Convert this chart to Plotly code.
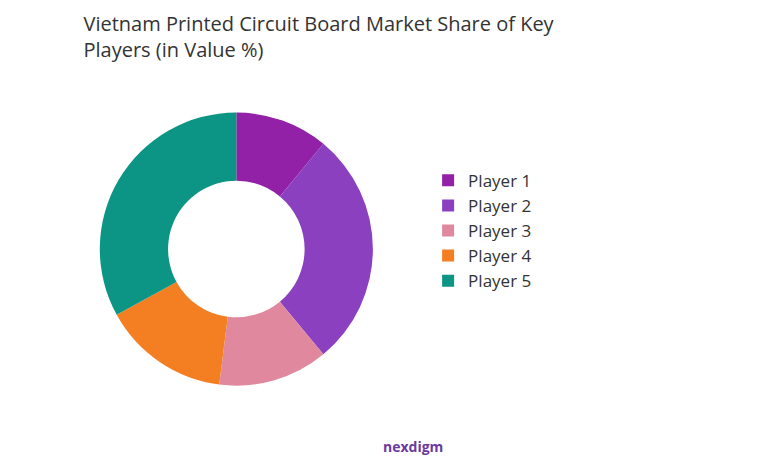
import plotly.graph_objects as go

labels = ["Player 1", "Player 2", "Player 3", "Player 4", "Player 5"]
values = [11, 28, 13, 15, 33]
colors = ["#9321A8", "#8B41BF", "#E0889E", "#F47E22", "#0C9585"]

fig = go.Figure(go.Pie(
    labels=labels, values=values, hole=0.5, sort=False, direction="clockwise",
    rotation=0, marker=dict(colors=colors, line=dict(color="white", width=0)),
    textinfo="none", hoverinfo="label+percent",
    domain=dict(x=[0.118, 0.469], y=[0.194, 0.778]),
))
fig.update_layout(
    width=778, height=469, paper_bgcolor="white", plot_bgcolor="white",
    margin=dict(l=0, r=0, t=0, b=0),
    font=dict(family="Open Sans, sans-serif", color="#333"),
    title=dict(text="Vietnam Printed Circuit Board Market Share of Key<br>Players (in Value %)",
               x=0.097, xanchor="left", y=0.95, yanchor="top",
               font=dict(size=20, color="#333")),
    legend=dict(x=0.54, y=0.67, xanchor="left", yanchor="top",
                font=dict(size=17, color="#333"), itemwidth=30, tracegroupgap=0),
    annotations=[dict(text="<b>nexdigm</b>", x=0.52, y=0.04, xref="paper", yref="paper",
                      showarrow=False, font=dict(size=14, color="#6a3aa0"))],
)
fig.write_html("out.html")
